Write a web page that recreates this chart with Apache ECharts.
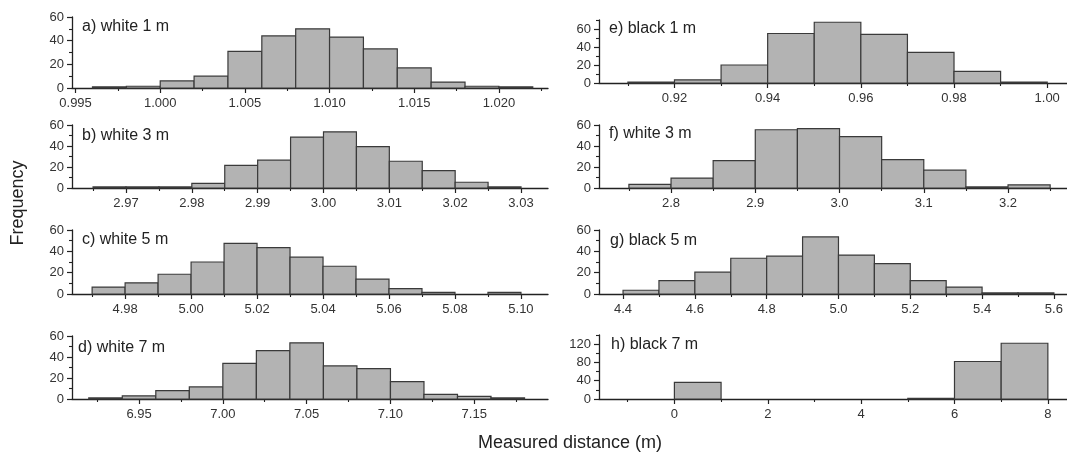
<!DOCTYPE html>
<html><head><meta charset="utf-8">
<script src="https://cdn.jsdelivr.net/npm/echarts@6/dist/echarts.min.js"></script>
<style>html,body{margin:0;padding:0;background:#fff}#c{width:1067px;height:454px}</style>
</head><body><div id="c"></div>
<script>
// ---- data ----
const titles = ['a) white 1 m','b) white 3 m','c) white 5 m','d) white 7 m','e) black 1 m','f) white 3 m','g) black 5 m','h) black 7 m'];
const binStart = [0.996, 2.965, 4.97, 6.92, 0.91, 2.75, 4.4, 0];
const binWidth = [0.002, 0.005, 0.01, 0.02, 0.01, 0.05, 0.1, 1];
const countsA = [1, 1.5, 6, 10, 31, 44, 50, 43, 33, 17, 5, 1.5, 1];
const countsB = [1, 1, 1, 4.5, 21.5, 26.5, 48.5, 53.5, 39.5, 25.5, 16.5, 5.5, 1];
const countsC = [6.5, 10.5, 18.5, 30, 47.5, 43.5, 34.5, 26, 14, 5, 1.5, 0, 1.5];
const countsD = [1, 3, 8, 11.5, 34, 46, 53.5, 31.5, 29, 16.5, 4.5, 2.5, 1];
const countsE = [1, 3.5, 20, 55, 67.5, 54, 34, 13, 1];
const countsF = [3.5, 9.5, 26, 55.5, 56.5, 49, 27, 17, 1, 3];
const countsG = [3.5, 12.5, 20.5, 33.5, 35.5, 53.5, 36.5, 28.5, 12.5, 6.5, 1, 1];
const countsH = [36.5, 0, 0, 0, 0, 1.5, 82, 122];
const counts = [countsA, countsB, countsC, countsD, countsE, countsF, countsG, countsH];

const xMajorTicks = [
  [0.995, 1.000, 1.005, 1.010, 1.015, 1.020],
  [2.97, 2.98, 2.99, 3.00, 3.01, 3.02, 3.03],
  [4.98, 5.00, 5.02, 5.04, 5.06, 5.08, 5.10],
  [6.95, 7.00, 7.05, 7.10, 7.15],
  [0.92, 0.94, 0.96, 0.98, 1.00],
  [2.8, 2.9, 3.0, 3.1, 3.2],
  [4.4, 4.6, 4.8, 5.0, 5.2, 5.4, 5.6],
  [0, 2, 4, 6, 8]
];
const xMinorTicks = [
  [0.9975, 1.0025, 1.0075, 1.0125, 1.0175, 1.0225],
  [2.965, 2.975, 2.985, 2.995, 3.005, 3.015, 3.025],
  [4.97, 4.99, 5.01, 5.03, 5.05, 5.07, 5.09],
  [6.925, 6.975, 7.025, 7.075, 7.125, 7.175],
  [0.91, 0.93, 0.95, 0.97, 0.99],
  [2.75, 2.85, 2.95, 3.05, 3.15, 3.25],
  [4.5, 4.7, 4.9, 5.1, 5.3, 5.5],
  [-1, 1, 3, 5, 7]
];
const xDecimals = [3, 2, 2, 2, 2, 1, 1, 0];
const xRange = [
  [0.99479, 1.0229], [2.9618, 3.0341], [4.9639, 5.1082], [6.910, 7.194],
  [0.9038, 1.00425], [2.7145, 3.270], [4.333, 5.6365], [-1.615, 8.41]
];
const yMajorTicks = [[0,20,40,60],[0,20,40,60],[0,20,40,60],[0,20,40,60],[0,20,40,60],[0,20,40,60],[0,20,40,60],[0,40,80,120]];
const yMinorTicks = [[10,30,50],[10,30,50],[10,30,50],[10,30,50],[10,30,50,70],[10,30,50],[10,30,50],[20,60,100,140]];
const yMax = [60, 60, 60, 60, 70, 60, 60, 140];

// ---- layout ----
const gridBoxes = [
  {left:72, width:476, top:17, height:71},
  {left:72, width:476, top:125, height:63},
  {left:72, width:476, top:230, height:64},
  {left:72, width:476, top:336, height:63},
  {left:599, right:0, top:20, height:63},
  {left:599, right:0, top:125, height:63},
  {left:599, right:0, top:230, height:64},
  {left:599, right:0, top:335, height:64}
];
const titlePos = [[82,27],[82,136],[82,240],[78,348],[609,29],[609,134],[610,241],[611,345]];

const FONT = 'Liberation Sans, Arial, Helvetica, sans-serif';
const AX = '#222';
const LBL = '#333';

const option = {animation:false, backgroundColor:'#fff', grid:[], xAxis:[], yAxis:[], series:[], graphic:[]};

counts.forEach((cs, i) => {
  option.grid.push(Object.assign({containLabel:false}, gridBoxes[i]));
  const xm = xRange[i];
  option.xAxis.push({
    type:'value', gridIndex:i, min:xm[0], max:xm[1], position:'bottom',
    axisLine:{show:true, onZero:false, lineStyle:{color:AX, width:1.3}},
    axisTick:{show:true, length:5, customValues:xMajorTicks[i], lineStyle:{color:AX, width:1.2}},
    axisLabel:{show:true, customValues:xMajorTicks[i], margin:9, fontSize:13, color:LBL, fontFamily:FONT,
      formatter:(v)=>Number(v).toFixed(xDecimals[i])},
    splitLine:{show:false}
  });
  option.xAxis.push({
    type:'value', gridIndex:i, min:xm[0], max:xm[1], position:'bottom', offset:0,
    axisLine:{show:false, onZero:false},
    axisTick:{show:true, length:3, customValues:xMinorTicks[i], lineStyle:{color:AX, width:1.1}},
    axisLabel:{show:false}, splitLine:{show:false}
  });
  option.yAxis.push({
    type:'value', gridIndex:i, min:0, max:yMax[i], position:'left',
    axisLine:{show:true, onZero:false, lineStyle:{color:AX, width:1.3}},
    axisTick:{show:true, length:5, customValues:yMajorTicks[i], lineStyle:{color:AX, width:1.2}},
    axisLabel:{show:true, customValues:yMajorTicks[i], margin:8, fontSize:13, color:LBL, fontFamily:FONT},
    splitLine:{show:false}
  });
  option.yAxis.push({
    type:'value', gridIndex:i, min:0, max:yMax[i], position:'left', offset:0,
    axisLine:{show:false, onZero:false},
    axisTick:{show:true, length:3, customValues:yMinorTicks[i], lineStyle:{color:AX, width:1.1}},
    axisLabel:{show:false}, splitLine:{show:false}
  });
  const data = cs.map((c, k) => [binStart[i] + k*binWidth[i], binStart[i] + (k+1)*binWidth[i], c]);
  option.series.push({
    type:'custom', xAxisIndex:2*i, yAxisIndex:2*i, clip:false, z:3,
    encode:{x:[0,1], y:2},
    data:data,
    renderItem:(params, api) => {
      const y = api.value(2);
      if (!y) return null;
      const p0 = api.coord([api.value(0), y]);
      const p1 = api.coord([api.value(1), 0]);
      return {type:'rect', shape:{x:p0[0], y:p0[1], width:p1[0]-p0[0], height:p1[1]-p0[1]},
        style:{fill:'#b3b3b3', stroke:'#3a3a3a', lineWidth:1.2}};
    }
  });
  option.graphic.push({type:'text', x:titlePos[i][0], y:titlePos[i][1], z:10,
    style:{text:titles[i], fontSize:16, fontFamily:FONT, fill:'#222', verticalAlign:'middle', align:'left'}});
});

option.graphic.push({type:'text', x:18, y:203, rotation:Math.PI/2, z:10,
  style:{text:'Frequency', fontSize:18, fontFamily:FONT, fill:'#222', align:'center', verticalAlign:'middle'}});
option.graphic.push({type:'text', x:570, y:443, z:10,
  style:{text:'Measured distance (m)', fontSize:18, fontFamily:FONT, fill:'#222', align:'center', verticalAlign:'middle'}});

const chart = echarts.init(document.getElementById('c'), null, {renderer:'canvas'});
chart.setOption(option);
</script>
</body></html>
